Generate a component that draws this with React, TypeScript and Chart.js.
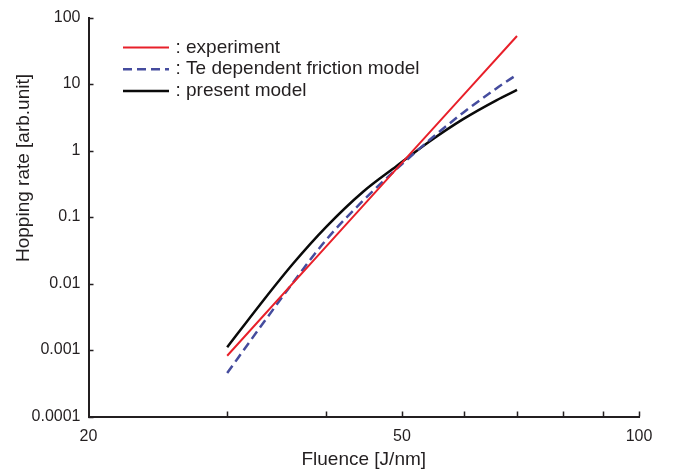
import React, { useEffect, useRef } from 'react';
import { Chart, registerables } from 'chart.js';

Chart.register(...registerables);

// ---- data ----
const experimentX = [30, 40, 50, 60, 70];
const experimentY = [0.00082, 0.0352, 0.652, 7.05, 52.9];

const frictionX = [30, 33, 36.36, 40.1, 44.6, 49.2, 54.2, 59.8, 65.9, 70];
const frictionY = [0.000451, 0.00216, 0.0103, 0.0459, 0.175, 0.525, 1.44, 3.71, 8.6, 13.9];

const presentX = [30, 33, 36.36, 40.1, 44.6, 49.2, 54.2, 59.8, 65.9, 70];
const presentY = [0.0011, 0.00476, 0.0198, 0.0717, 0.238, 0.581, 1.37, 2.97, 5.7, 8.17];

const seriesLabels = [': experiment', ': Te dependent friction model', ': present model'];

const xTickValues = [20, 50, 100];
const xTickLabels = ['20', '50', '100'];
const xMarkValues = [30, 40, 50, 60, 70, 80, 90, 100];

const yTickValues = [0.0001, 0.001, 0.01, 0.1, 1, 10, 100];
const yTickLabels = ['0.0001', '0.001', '0.01', '0.1', '1', '10', '100'];

const xTitle = 'Fluence [J/nm]';
const yTitle = 'Hopping rate [arb.unit]';

// ---- styles ----
const FONT = '"Liberation Sans", Arial, Helvetica, sans-serif';
const TEXT = '#231f20';
const AXIS = '#231f20';

const toPoints = (xs: number[], ys: number[]) => xs.map((x, i) => ({ x, y: ys[i] }));

const decorPlugin = {
  id: 'decor',
  afterDraw(chart: any) {
    const { ctx, chartArea, scales } = chart;
    const xs = scales.x;
    const ys = scales.y;
    ctx.save();
    // inward tick marks
    ctx.strokeStyle = AXIS;
    ctx.lineWidth = 1.5;
    ctx.beginPath();
    xMarkValues.forEach((v) => {
      const px = Math.round(xs.getPixelForValue(v)) + 0.5;
      ctx.moveTo(px, chartArea.bottom);
      ctx.lineTo(px, chartArea.bottom - 5);
    });
    yTickValues.forEach((v) => {
      const py = Math.round(ys.getPixelForValue(v)) + 0.5;
      ctx.moveTo(chartArea.left, py);
      ctx.lineTo(chartArea.left + 5, py);
    });
    ctx.stroke();

    // legend
    ctx.font = `19px ${FONT}`;
    ctx.textBaseline = 'middle';
    ctx.textAlign = 'left';
    chart.data.datasets.forEach((ds: any, i: number) => {
      const ly = 47.5 + i * 21.7;
      ctx.save();
      ctx.strokeStyle = ds.borderColor;
      ctx.lineWidth = ds.borderWidth;
      ctx.setLineDash(ds.borderDash || []);
      ctx.beginPath();
      ctx.moveTo(123, ly);
      ctx.lineTo(169, ly);
      ctx.stroke();
      ctx.restore();
      ctx.fillStyle = TEXT;
      ctx.fillText(ds.label, 175.5, ly);
    });

    // y axis title
    ctx.translate(23.5, 168);
    ctx.rotate(-Math.PI / 2);
    ctx.textAlign = 'center';
    ctx.textBaseline = 'middle';
    ctx.fillStyle = TEXT;
    ctx.font = `19px ${FONT}`;
    ctx.fillText(yTitle, 0, 0);
    ctx.restore();
  },
};

export default function App() {
  const canvasRef = useRef<HTMLCanvasElement | null>(null);

  useEffect(() => {
    document.body.style.margin = '0';
    const canvas = canvasRef.current;
    if (!canvas) return;
    const chart = new Chart(canvas, {
      type: 'line',
      data: {
        datasets: [
          {
            label: seriesLabels[0],
            data: toPoints(experimentX, experimentY),
            borderColor: '#e8202a',
            borderWidth: 2,
            pointRadius: 0,
            tension: 0,
            fill: false,
          },
          {
            label: seriesLabels[1],
            data: toPoints(frictionX, frictionY),
            borderColor: '#454c9e',
            borderWidth: 2.5,
            borderDash: [9, 5],
            pointRadius: 0,
            cubicInterpolationMode: 'monotone',
            fill: false,
          },
          {
            label: seriesLabels[2],
            data: toPoints(presentX, presentY),
            borderColor: '#0a0a0a',
            borderWidth: 2.5,
            pointRadius: 0,
            cubicInterpolationMode: 'monotone',
            fill: false,
          },
        ],
      },
      options: {
        animation: false,
        responsive: true,
        maintainAspectRatio: false,
        events: [],
        layout: { padding: { left: 0, right: 34, top: 14, bottom: 0 } },
        plugins: {
          legend: { display: false },
          tooltip: { enabled: false },
          title: { display: false },
        },
        scales: {
          x: {
            type: 'logarithmic',
            min: 20,
            max: 100,
            grid: { display: false, drawTicks: false },
            border: { display: true, color: AXIS, width: 2 },
            afterBuildTicks: (scale: any) => {
              scale.ticks = xTickValues.map((v) => ({ value: v }));
            },
            afterFit: (scale: any) => {
              scale.height = 55.5;
            },
            ticks: {
              autoSkip: false,
              maxRotation: 0,
              padding: 10,
              color: TEXT,
              font: { family: FONT, size: 16 },
              callback: (value: any) => {
                const i = xTickValues.indexOf(Number(value));
                return i >= 0 ? xTickLabels[i] : '';
              },
            },
            title: {
              display: true,
              text: xTitle,
              color: TEXT,
              font: { family: FONT, size: 19 },
              padding: { top: 0, bottom: 1 },
            },
          },
          y: {
            type: 'logarithmic',
            min: 0.0001,
            max: 100,
            grid: { display: false, drawTicks: false },
            border: { display: true, color: AXIS, width: 2 },
            afterBuildTicks: (scale: any) => {
              scale.ticks = yTickValues.map((v) => ({ value: v }));
            },
            afterFit: (scale: any) => {
              scale.width = 88.5;
            },
            ticks: {
              autoSkip: false,
              padding: 8,
              color: TEXT,
              font: { family: FONT, size: 16 },
              callback: (value: any) => {
                const i = yTickValues.findIndex((v) => Math.abs(v - Number(value)) / v < 1e-6);
                return i >= 0 ? yTickLabels[i] : '';
              },
            },
          },
        },
      } as any,
      plugins: [decorPlugin],
    });
    return () => chart.destroy();
  }, []);

  return (
    <div style={{ position: 'relative', width: 673, height: 472, background: '#fff' }}>
      <canvas ref={canvasRef} />
    </div>
  );
}
